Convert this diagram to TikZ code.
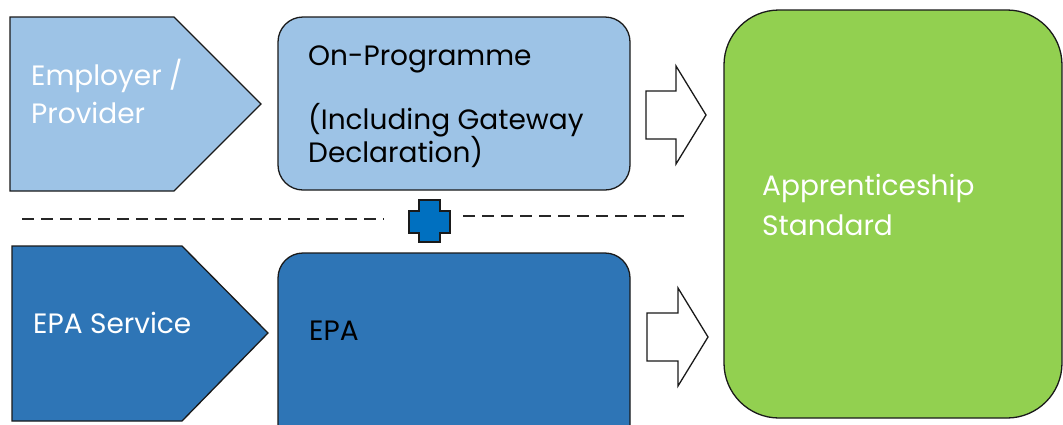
\documentclass[tikz,border=0pt]{standalone}
\usepackage{fontspec}
\setmainfont{Poppins}
\definecolor{lightblue}{HTML}{9DC3E6}
\definecolor{midblue}{HTML}{2E75B6}
\definecolor{plusblue}{HTML}{0070C0}
\definecolor{leafgreen}{HTML}{92D050}
\definecolor{edge}{HTML}{1A1A1A}
\tikzset{
  shapeline/.style={draw=edge, line width=1.3pt},
  label/.style={inner sep=0pt, anchor=base west, font=\fontsize{28}{33}\selectfont},
  whitetext/.style={label, text=white},
  blacktext/.style={label, text=black},
  divider/.style={line width=2.6pt, dash pattern=on 12pt off 7pt, draw=black!85},
  blockarrow/.style={draw=edge, line width=1.3pt, fill=white},
}
\begin{document}
\begin{tikzpicture}[x=1pt, y=-1pt]
\useasboundingbox (0,0) rectangle (1063,424);
\clip (0,0) rectangle (1063,424);
\fill[white] (0,0) rectangle (1063,424);

% left chevrons
\draw[shapeline, fill=lightblue] (10,17) -- (174,17) -- (261,104) -- (174,191) -- (10,191) -- cycle;
\draw[shapeline, fill=midblue] (12,246) -- (182,246) -- (268,333) -- (182,421) -- (12,421) -- cycle;

% middle boxes
\draw[shapeline, fill=lightblue, rounded corners=25pt] (278,17) rectangle (630,190);
\draw[shapeline, fill=midblue, rounded corners=25pt] (278,253) rectangle (630,460);

% target box
\draw[shapeline, fill=leafgreen, rounded corners=55pt] (724,10) rectangle (1062,418);

% block arrows
\draw[blockarrow] (646,91) -- (676,91) -- (676,66) -- (706,115) -- (676,164) -- (676,139) -- (646,139) -- cycle;
\draw[blockarrow] (647,313) -- (678,313) -- (678,288) -- (708,337) -- (678,386) -- (678,361) -- (647,361) -- cycle;

% dashed divider with plus sign
\coordinate (dl1) at (22,219);
\coordinate (dl2) at (384,219);
\coordinate (dr1) at (463,216);
\coordinate (dr2) at (690,216);
\draw[divider] (dl1) -- (dl2);
\draw[divider] (dr1) -- (dr2);
\draw[shapeline, fill=plusblue, line width=1.2pt]
  (419,200) -- (440,200) -- (440,211) -- (450,211) -- (450,233) -- (440,233)
  -- (440,242) -- (419,242) -- (419,233) -- (409,233) -- (409,211) -- (419,211) -- cycle;

% labels
\node[whitetext] (emp1) at (31,85) {Employer /};
\node[whitetext] (emp2) at (31,123) {Provider};
\node[whitetext] (eps) at (33,333) {EPA Service};
\node[blacktext] (onp1) at (308,65) {On-Programme};
\node[blacktext] (onp2) at (308,129) {(Including Gateway};
\node[blacktext] (onp3) at (308,162) {Declaration)};
\node[blacktext] (epa) at (309,340) {EPA};
\node[whitetext] (std1) at (762,195) {Apprenticeship};
\node[whitetext] (std2) at (762,235) {Standard};
\end{tikzpicture}
\end{document}
